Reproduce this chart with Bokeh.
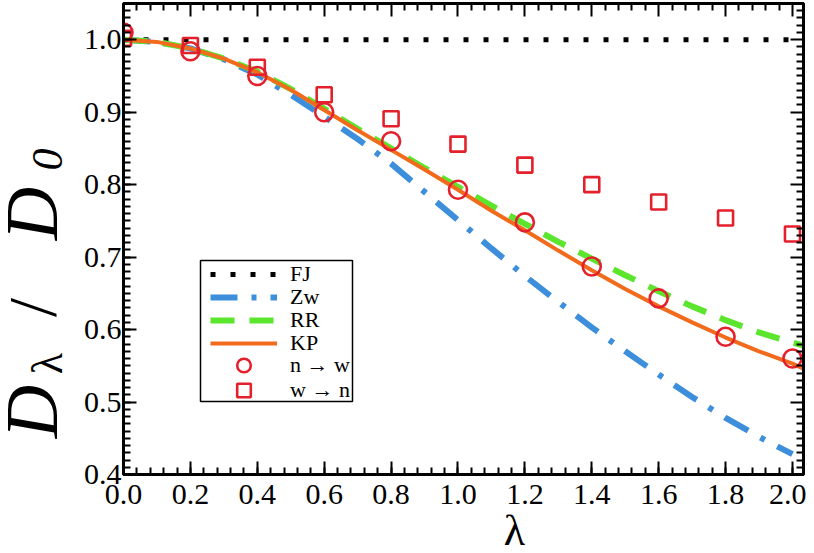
import math
from bokeh.plotting import figure
from bokeh.layouts import row, column
from bokeh.models import (Range1d, LinearAxis, SingleIntervalTicker, FixedTicker,
                          PrintfTickFormatter, Legend, LegendItem, Label, BoxAnnotation)
from bokeh.embed import file_html
from bokeh.resources import INLINE

# ---- data ----
lam_curve = [0.0, 0.1, 0.2, 0.3, 0.4, 0.5, 0.6, 0.7, 0.8, 0.9, 1.0, 1.1, 1.2, 1.3,
             1.4, 1.5, 1.6, 1.7, 1.8, 1.9, 2.0, 2.033]
fj = [1.0] * len(lam_curve)
lam_zw = lam_curve[:-1]
zw = [1.0, 0.997, 0.988, 0.973, 0.952, 0.924, 0.894, 0.863, 0.829, 0.790, 0.751,
      0.712, 0.674, 0.638, 0.603, 0.570, 0.538, 0.507, 0.478, 0.452, 0.428]
rr = [1.0, 0.997, 0.988, 0.974, 0.956, 0.932, 0.905, 0.877, 0.850, 0.823, 0.797,
      0.771, 0.746, 0.721, 0.698, 0.675, 0.653, 0.632, 0.613, 0.596, 0.582, 0.578]
kp = [1.0, 0.997, 0.988, 0.974, 0.955, 0.931, 0.903, 0.875, 0.848, 0.821, 0.793,
      0.764, 0.737, 0.709, 0.682, 0.656, 0.632, 0.610, 0.589, 0.570, 0.553, 0.546]
lam_pts = [0.0, 0.2, 0.4, 0.6, 0.8, 1.0, 1.2, 1.4, 1.6, 1.8, 2.0]
n_to_w = [1.010, 0.984, 0.950, 0.900, 0.860, 0.793, 0.748, 0.687, 0.643, 0.590, 0.560]
w_to_n = [1.002, 0.992, 0.962, 0.924, 0.891, 0.856, 0.827, 0.800, 0.776, 0.754, 0.732]
legend_labels = ["FJ", "Zw", "RR", "KP", "n \u2192 w", "w \u2192 n"]

X_MAJOR = 0.2
X_MINOR_N = 5
Y_MAJOR = 0.1
Y_MINOR_N = 10
X_MAX = 2.033
Y_MIN, Y_MAX = 0.4, 1.05

SERIF = "Liberation Serif"
RED = "#e3202c"
TOTAL_H = 545
YLAB_W = 72
MAIN_W = 734
MAIN_H = 514

# ---------------- main plot ----------------
p = figure(width=MAIN_W, height=MAIN_H, output_backend="svg", toolbar_location=None,
           x_range=Range1d(0, X_MAX), y_range=Range1d(Y_MIN, Y_MAX),
           min_border_left=51, min_border_right=3, min_border_top=3, min_border_bottom=40,
           x_axis_type=None, y_axis_type=None)
p.background_fill_color = "white"
p.border_fill_color = "white"
p.outline_line_color = "black"
p.outline_line_width = 3
p.grid.visible = False


def style_axis(ax):
    ax.axis_line_color = "black"
    ax.axis_line_width = 3
    ax.major_tick_in = 13
    ax.major_tick_out = 0
    ax.minor_tick_in = 7
    ax.minor_tick_out = 0
    ax.major_tick_line_width = 2
    ax.minor_tick_line_width = 2
    ax.major_tick_line_color = "black"
    ax.minor_tick_line_color = "black"
    return ax


xax = style_axis(LinearAxis(ticker=SingleIntervalTicker(interval=X_MAJOR, num_minor_ticks=X_MINOR_N),
                            formatter=PrintfTickFormatter(format="%.1f")))
yax = style_axis(LinearAxis(ticker=SingleIntervalTicker(interval=Y_MAJOR, num_minor_ticks=Y_MINOR_N),
                            formatter=PrintfTickFormatter(format="%.1f")))
for ax, so in ((xax, 10), (yax, 2)):
    ax.major_label_text_font = SERIF
    ax.major_label_text_font_size = "30px"
    ax.major_label_text_color = "black"
    ax.major_label_standoff = so
p.add_layout(xax, "below")
p.add_layout(yax, "left")

# mirrored tick marks (top and right) without labels
x_major_pos = [round(i * X_MAJOR, 6) for i in range(int(X_MAX / X_MAJOR) + 1)]
x_minor_pos = [round(i * X_MAJOR / X_MINOR_N, 6) for i in range(int(X_MAX / (X_MAJOR / X_MINOR_N)) + 1)
               if i % X_MINOR_N]
y_major_pos = [round(Y_MIN + i * Y_MAJOR, 6) for i in range(7)]
y_minor_pos = [round(Y_MIN + i * Y_MAJOR / Y_MINOR_N, 6) for i in range(66) if i % Y_MINOR_N]

for side, major_pos, minor_pos in (("above", x_major_pos, x_minor_pos),
                                   ("right", y_major_pos, y_minor_pos)):
    for pos, length in ((major_pos, 13), (minor_pos, 7)):
        ax = LinearAxis(ticker=FixedTicker(ticks=[], minor_ticks=pos))
        ax.axis_line_color = "black"
        ax.axis_line_width = 3
        ax.major_tick_in = 0
        ax.major_tick_out = 0
        ax.minor_tick_in = length
        ax.minor_tick_out = 0
        ax.minor_tick_line_width = 2
        ax.minor_tick_line_color = "black"
        ax.major_label_standoff = 0
        p.add_layout(ax, side)

r_fj = p.line(lam_curve, fj, line_color="black", line_width=5, line_dash="5 15")
r_zw = p.line(lam_zw, zw, line_color="#3d8fdc", line_width=6, line_dash="27 14 5 14")
r_rr = p.line(lam_curve, rr, line_color="#5be52c", line_width=6, line_dash="24 15")
r_kp = p.line(lam_curve, kp, line_color="#f26b1d", line_width=4)
r_nw = p.scatter(lam_pts, n_to_w, marker="circle", size=18, fill_color=None,
                 line_color=RED, line_width=2.6)
r_wn = p.scatter(lam_pts, w_to_n, marker="square", size=15, fill_color=None,
                 line_color=RED, line_width=2.6)

# legend frame
p.add_layout(BoxAnnotation(left=77, right=229, bottom=73, top=214,
                           left_units="screen", right_units="screen",
                           bottom_units="screen", top_units="screen",
                           fill_color="white", fill_alpha=1.0,
                           line_color="black", line_width=1.5, line_alpha=1.0,
                           line_dash="solid"))

renderers = [r_fj, r_zw, r_rr, r_kp, r_nw, r_wn]
# one legend entry per row so that every row sits where the reference has it
row_loc = [(87, 185, 30), (87, 162, 30), (87, 139, 30), (87, 116, 30), (87, 92, 34), (87, 67, 34)]

for i, (lx, ly, gh) in enumerate(row_loc):
    lg = Legend(items=[LegendItem(label=legend_labels[i], renderers=[renderers[i]])],
                location=(lx, ly))
    lg.label_text_font = SERIF
    lg.label_text_font_size = "22px"
    lg.label_text_color = "black"
    lg.glyph_width = 67
    lg.glyph_height = gh
    lg.label_height = 20
    lg.spacing = 0
    lg.padding = 0
    lg.margin = 0
    lg.label_standoff = 13
    lg.border_line_color = None
    lg.background_fill_alpha = 0
    p.add_layout(lg, "center")

# ---------------- y-axis label panel ----------------
ylab = figure(width=YLAB_W, height=TOTAL_H, output_backend="svg", toolbar_location=None,
              x_range=Range1d(0, 1), y_range=Range1d(0, 1), min_border=0,
              x_axis_location=None, y_axis_location=None)
ylab.outline_line_color = None
ylab.grid.visible = False
ylab.background_fill_color = "white"
ylab.border_fill_color = "white"


def vlab(text, x, y, size, italic=True):
    return Label(x=x, y=y, x_units="screen", y_units="screen", text=text,
                 text_font=SERIF, text_font_size=size,
                 text_font_style="italic" if italic else "normal",
                 text_color="black", angle=math.pi / 2, text_align="center",
                 text_baseline="middle")


ylab.add_layout(vlab("D", 31, 134, "74px"))
ylab.add_layout(vlab("\u03bb", 47, 182, "44px", italic=False))
ylab.add_layout(vlab("/", 31, 238, "68px", italic=False))
ylab.add_layout(vlab("D", 31, 332, "74px"))
ylab.add_layout(vlab("0", 47, 386, "44px"))

# ---------------- x-axis label panel ----------------
xlab = figure(width=MAIN_W, height=TOTAL_H - MAIN_H, output_backend="svg", toolbar_location=None,
              x_range=Range1d(0, 1), y_range=Range1d(0, 1), min_border=0,
              x_axis_location=None, y_axis_location=None)
xlab.outline_line_color = None
xlab.grid.visible = False
xlab.background_fill_color = "white"
xlab.border_fill_color = "white"
xlab.add_layout(Label(x=391, y=15, x_units="screen", y_units="screen", text="\u03bb",
                      text_font=SERIF, text_font_size="44px", text_color="black",
                      text_align="center", text_baseline="middle"))

layout = row(ylab, column(p, xlab, spacing=0), spacing=0)
open("out.html", "w").write(file_html(layout, INLINE))
